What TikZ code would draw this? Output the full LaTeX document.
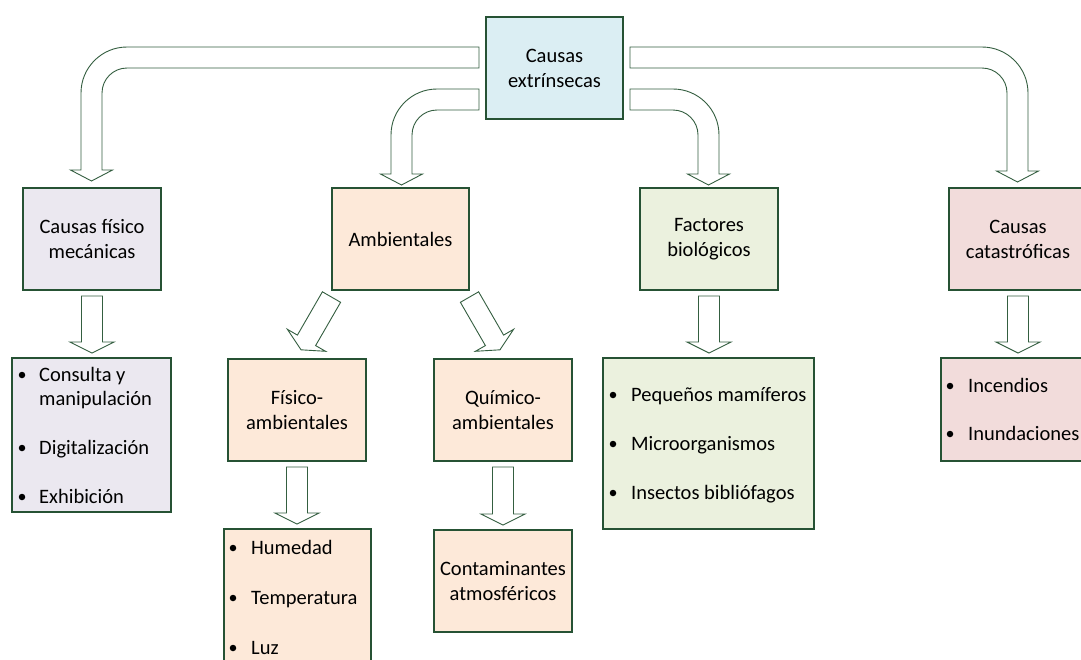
\documentclass[tikz,border=0pt]{standalone}
\usepackage{fontspec}
\setmainfont{Carlito}
\usetikzlibrary{calc}
\definecolor{bord}{RGB}{38,82,52}
\definecolor{arr}{RGB}{52,94,64}
\definecolor{cblue}{RGB}{219,238,243}
\definecolor{clav}{RGB}{235,232,240}
\definecolor{cpeach}{RGB}{253,233,217}
\definecolor{cgreen}{RGB}{235,241,222}
\definecolor{cpink}{RGB}{242,220,219}
\newcommand\vblock[2]{%
  \draw[blk] let \p1=($(#1.south)+(0,6)$), \p2=($(#2.north)+(0,-5)$) in
    (\x1-10.5pt,\y1) -- (\x1-10.5pt,\y2+11pt) -- (\x1-22pt,\y2+11pt) -- (\x1,\y2)
    -- (\x1+22pt,\y2+11pt) -- (\x1+10.5pt,\y2+11pt) -- (\x1+10.5pt,\y1) -- cycle;}
\begin{document}
\begin{tikzpicture}[x=1pt,y=-1pt,
  txt/.style={font=\fontsize{20.5}{25}\selectfont},
  box/.style={txt, draw=bord, line width=1.8pt, inner sep=0pt, outer sep=0pt, align=center, minimum width=138pt, minimum height=102pt},
  blk/.style={draw=arr, line width=0.9pt, fill=white, line join=miter},
  itm/.style={txt, anchor=base west, inner sep=0pt},
  bul/.style={circle, fill=black, inner sep=0pt, minimum size=6.5pt}]
\useasboundingbox (0,0) rectangle (1081,659);
% boxes
\node[box, fill=cblue, minimum width=137pt] (top) at (554.5,68) {Causas\\extrínsecas};
\node[box, fill=clav] (fis) at (92,239) {Causas físico\\mecánicas};
\node[box, fill=cpeach, minimum width=137pt] (amb) at (400.5,239) {Ambientales};
\node[box, fill=cgreen] (fac) at (709,239) {Factores\\biológicos};
\node[box, fill=cpink] (cat) at (1018,239) {Causas\\catastróficas};
\node[box, fill=clav, minimum width=159pt, minimum height=154pt] (l1) at (91.5,435) {};
\node[box, fill=cpeach] (fa) at (297,410) {Físico-\\ambientales};
\node[box, fill=cpeach] (qa) at (503,410) {Químico-\\ambientales};
\node[box, fill=cpeach, minimum width=147pt, minimum height=160pt] (hum) at (297.5,609) {};
\node[box, fill=cpeach] (cont) at (503,581) {Contaminantes\\atmosféricos};
\node[box, fill=cgreen, minimum width=211pt, minimum height=171pt] (peq) at (708.5,443.5) {};
\node[box, fill=cpink, minimum width=154pt, minimum height=103pt] (inc) at (1018,409.5) {};
% list items
\node[bul] (b11) at (22,375) {}; \node[itm] (t11) at (39,381) {Consulta y};
\node[itm] (t12) at (39,405) {manipulación};
\node[bul] (b13) at (22,448) {}; \node[itm] (t13) at (39,454) {Digitalización};
\node[bul] (b14) at (22,497) {}; \node[itm] (t14) at (39,503) {Exhibición};
\node[bul] (b21) at (233,548) {}; \node[itm] (t21) at (251,554) {Humedad};
\node[bul] (b22) at (233,598) {}; \node[itm] (t22) at (251,604) {Temperatura};
\node[bul] (b23) at (233,648) {}; \node[itm] (t23) at (251,654) {Luz};
\node[bul] (b31) at (613,395) {}; \node[itm] (t31) at (631,401) {Pequeños mamíferos};
\node[bul] (b32) at (613,444) {}; \node[itm] (t32) at (631,450) {Microorganismos};
\node[bul] (b33) at (613,493) {}; \node[itm] (t33) at (631,499) {Insectos bibliófagos};
\node[bul] (b41) at (950,386) {}; \node[itm] (t41) at (968,392) {Incendios};
\node[bul] (b42) at (950,434) {}; \node[itm] (t42) at (968,440) {Inundaciones};
% curved block arrows from top box
\draw[blk] (479,47) -- (127,47) arc(-90:-180:46) -- (81,170) -- (70.5,170) -- (91.5,181)
  -- (112.5,170) -- (102,170) -- (102,93) arc(180:270:25) -- (479,68) -- cycle;
\draw[blk] (479,89) -- (437,89) arc(-90:-180:46) -- (391,174) -- (380.5,174) -- (401.5,185)
  -- (422.5,174) -- (412,174) -- (412,135) arc(180:270:25) -- (479,110) -- cycle;
\draw[blk] (630,89) -- (673,89) arc(-90:0:46) -- (719,174) -- (729.5,174) -- (708.5,185)
  -- (687.5,174) -- (698,174) -- (698,135) arc(0:-90:25) -- (630,110) -- cycle;
\draw[blk] (630,47) -- (982,47) arc(-90:0:46) -- (1028,171) -- (1038.5,171) -- (1017.5,182)
  -- (996.5,171) -- (1007,171) -- (1007,93) arc(0:-90:25) -- (630,68) -- cycle;
% diagonal block arrows from Ambientales
\draw[blk] (322.4,291.8) -- (340.6,302.3) -- (315.6,345.6) -- (325.6,351.3) -- (301,349.8)
  -- (287.4,329.3) -- (297.4,335.1) -- cycle;
\draw[blk] (478.6,291.8) -- (460.4,302.3) -- (485.4,345.6) -- (475.4,351.3) -- (500,349.8)
  -- (513.6,329.3) -- (503.6,335.1) -- cycle;
% straight block arrows
\vblock{fis}{l1}
\vblock{fac}{peq}
\vblock{cat}{inc}
\vblock{fa}{hum}
\vblock{qa}{cont}
\end{tikzpicture}
\end{document}
